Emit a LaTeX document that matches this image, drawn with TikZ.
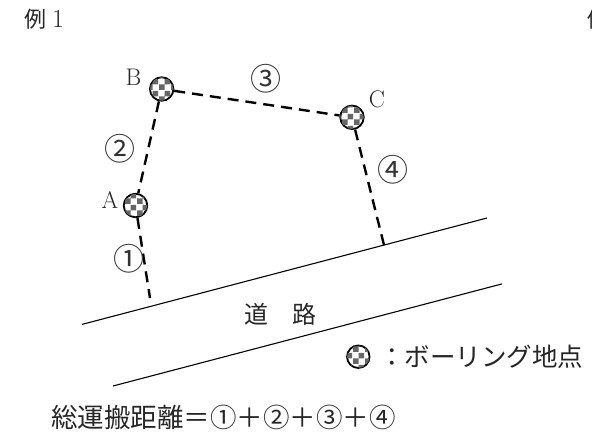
\documentclass[tikz,border=0pt]{standalone}
\usepackage{fontspec}
\newfontfamily\jp{Noto Sans CJK JP}
\usetikzlibrary{patterns}
\begin{document}
\begin{tikzpicture}[x=1pt,y=-1pt,
  bore/.style={circle,draw,line width=1.8pt,minimum size=23.5pt,inner sep=0pt,fill=white,postaction={pattern=checkerboard,pattern color=black!60}},
  dline/.style={line width=2.4pt,dash pattern=on 11pt off 7pt},
  road/.style={line width=1.1pt},
  lbl/.style={font=\fontsize{24}{24}\selectfont,inner sep=0pt,text=black!85},
  num/.style={font=\jp\fontsize{31}{31}\selectfont,inner sep=0pt,text=black!80},
  jtxt/.style={font=\jp\fontsize{24}{24}\selectfont,inner sep=0pt,text=black!85}]
\useasboundingbox (0,0) rectangle (592,432);
% title
\node[anchor=west,inner sep=0pt,text=black!85,font=\fontsize{26}{26}\selectfont] (t1) at (24,19) {{\jp\fontsize{22}{22}\selectfont 例}\hspace{6pt}1};
\node[anchor=west,inner sep=0pt,text=black!85,font=\jp\fontsize{22}{22}\selectfont] (t2) at (587.5,19) {例};
% road
\coordinate (r1) at (82,324.4);
\coordinate (r1e) at (487,218);
\coordinate (r2) at (113,386);
\coordinate (r2e) at (502,283.9);
\draw[road] (r1) -- (r1e);
\draw[road] (r2) -- (r2e);
\node[jtxt] (road) at (280.6,314) {道　路};
% borings
\node[bore] (B) at (161.7,89) {};
\node[bore] (C) at (352,117.3) {};
\node[bore] (A) at (135.5,205.5) {};
\coordinate (Aend) at (150,298);
\coordinate (Cend) at (384,245);
\draw[dline] (A) -- (Aend);
\draw[dline] (B) -- (A);
\draw[dline] (B) -- (C);
\draw[dline] (C) -- (Cend);
% labels
\node[lbl] (lA) at (110,200) {A};
\node[lbl] (lB) at (133.5,77.5) {B};
\node[lbl] (lC) at (377,99) {C};
\node[num] (n1) at (129,259) {①};
\node[num] (n2) at (120,149) {②};
\node[num] (n3) at (265.7,79) {③};
\node[num] (n4) at (393,170) {④};
% legend
\node[bore,minimum size=22.5pt] (lg) at (358.3,356.7) {};
\node[jtxt,anchor=west,font=\jp\fontsize{25.5}{25.5}\selectfont] (lgt) at (379,356.7) {：ボーリング地点};
% formula
\node[jtxt,anchor=west,font=\jp\fontsize{26.5}{26.5}\selectfont] (f) at (51,417) {総運搬距離＝①＋②＋③＋④};
\end{tikzpicture}
\end{document}
